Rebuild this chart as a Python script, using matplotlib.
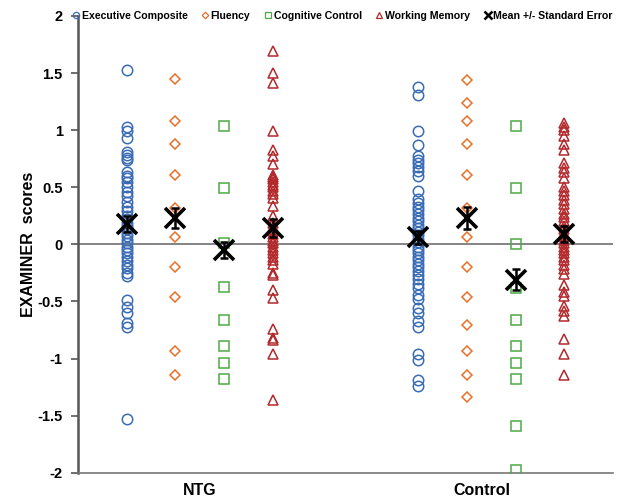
import matplotlib
matplotlib.use("Agg")
import matplotlib.pyplot as plt
from matplotlib.lines import Line2D

plt.rcParams['font.family'] = ['Liberation Sans', 'DejaVu Sans']
plt.rcParams['font.weight'] = 'bold'

# positions on x: NTG group 1-4, Control group 7-10
groups = ["NTG", "Control"]
series = ["Executive Composite", "Fluency", "Cognitive Control", "Working Memory"]

ntg_exec = [1.53, 1.03, 0.99, 0.93, 0.81, 0.78, 0.76, 0.74, 0.63, 0.60, 0.58, 0.55,
            0.50, 0.46, 0.42, 0.37, 0.33, 0.29, 0.25, 0.22, 0.19, 0.16, 0.13, 0.10,
            0.07, 0.04, 0.01, -0.02, -0.05, -0.08, -0.11, -0.15, -0.18, -0.21, -0.25,
            -0.28, -0.49, -0.55, -0.60, -0.69, -0.72, -1.53]
ntg_flu = [1.45, 1.08, 0.88, 0.61, 0.32, 0.06, -0.20, -0.46, -0.93, -1.14]
ntg_cog = [1.04, 0.49, 0.01, -0.37, -0.66, -0.89, -1.04, -1.18]
ntg_wm = [1.69, 1.50, 1.41, 0.99, 0.83, 0.77, 0.70, 0.61, 0.59, 0.57, 0.55, 0.52,
          0.50, 0.47, 0.44, 0.41, 0.34, 0.25, 0.19, 0.15, 0.12, 0.09, 0.06, 0.03,
          0.01, -0.02, -0.05, -0.08, -0.11, -0.14, -0.17, -0.25, -0.27, -0.40,
          -0.47, -0.74, -0.82, -0.84, -0.96, -1.36]

ctl_exec = [1.38, 1.31, 0.99, 0.87, 0.77, 0.74, 0.71, 0.68, 0.64, 0.60, 0.47, 0.40,
            0.36, 0.33, 0.30, 0.27, 0.23, 0.20, 0.17, 0.14, 0.11, 0.08, 0.05, 0.02,
            -0.02, -0.05, -0.08, -0.11, -0.14, -0.17, -0.20, -0.23, -0.27, -0.30,
            -0.35, -0.38, -0.44, -0.48, -0.56, -0.60, -0.67, -0.72, -0.96, -1.01,
            -1.19, -1.24]
ctl_flu = [1.44, 1.24, 1.08, 0.88, 0.61, 0.32, 0.06, -0.20, -0.46, -0.71, -0.93, -1.14, -1.34]
ctl_cog = [1.04, 0.49, 0.00, -0.38, -0.66, -0.89, -1.04, -1.18, -1.59, -1.98]
ctl_wm = [1.06, 1.03, 1.00, 0.95, 0.88, 0.83, 0.71, 0.67, 0.63, 0.58, 0.50, 0.47,
          0.43, 0.39, 0.35, 0.31, 0.27, 0.24, 0.20, 0.16, 0.13, 0.10, 0.07, 0.04,
          0.01, -0.02, -0.05, -0.08, -0.11, -0.14, -0.18, -0.22, -0.26, -0.36,
          -0.42, -0.45, -0.54, -0.58, -0.63, -0.83, -0.96, -1.14]

ntg_mean = [0.18, 0.23, -0.05, 0.14]
ntg_se = [0.07, 0.09, 0.07, 0.08]
ctl_mean = [0.06, 0.23, -0.31, 0.09]
ctl_se = [0.06, 0.10, 0.09, 0.07]

x_ntg = [1, 2, 3, 4]
x_ctl = [7, 8, 9, 10]

colors = ['#3A6BB5', '#E8702A', '#4DAA45', '#B3282B']
markers = ['o', 'D', 's', '^']
msizes = [7.5, 5.5, 7, 6.5]

fig = plt.figure(figsize=(6.21, 4.99), dpi=100)
ax = fig.add_axes([0.1256, 0.0527, 0.8614, 0.9153])

data = [[ntg_exec, ntg_flu, ntg_cog, ntg_wm], [ctl_exec, ctl_flu, ctl_cog, ctl_wm]]
xs = [x_ntg, x_ctl]
for g in range(2):
    for k in range(4):
        vals = data[g][k]
        ax.plot([xs[g][k]] * len(vals), vals, linestyle='none', marker=markers[k],
                markersize=msizes[k], markerfacecolor='none', markeredgecolor=colors[k],
                markeredgewidth=1.1, zorder=3)

for xx, mm, ss in [(x_ntg, ntg_mean, ntg_se), (x_ctl, ctl_mean, ctl_se)]:
    ax.errorbar(xx, mm, yerr=ss, fmt='none', ecolor='black', elinewidth=1.8,
                capsize=3, capthick=1.8, zorder=4)
    ax.plot(xx, mm, linestyle='none', marker='x', markersize=15, markeredgewidth=2.6,
            color='black', zorder=5)

ax.axhline(0, color='#6f6f6f', linewidth=1.2, zorder=1)

ax.set_xlim(0, 11)
ax.set_ylim(-2, 2)
ax.set_yticks([-2, -1.5, -1, -0.5, 0, 0.5, 1, 1.5, 2])
ax.set_yticklabels(['-2', '-1.5', '-1', '-0.5', '0', '0.5', '1', '1.5', '2'])
ax.set_xticks([])
ax.tick_params(axis='y', labelsize=10.5, length=5, width=1.2, color='#555555', pad=6)
for lab in ax.get_yticklabels():
    lab.set_fontweight('bold')

ax.spines['top'].set_visible(False)
ax.spines['right'].set_visible(False)
ax.spines['left'].set_color('#555555')
ax.spines['left'].set_linewidth(1.8)
ax.spines['bottom'].set_color('#777777')
ax.spines['bottom'].set_linewidth(1.2)

ax.set_ylabel('EXAMINER  scores', fontsize=11.5, fontweight='bold', labelpad=1)

ax.text(2.5, -2.16, groups[0], ha='center', va='center', fontsize=11.5, fontweight='bold')
ax.text(8.3, -2.16, groups[1], ha='center', va='center', fontsize=11.5, fontweight='bold')

handles = []
for k in range(4):
    handles.append(Line2D([], [], linestyle='none', marker=markers[k], markersize=msizes[k] * 0.6,
                          markerfacecolor='none', markeredgecolor=colors[k], markeredgewidth=0.9))
handles.append(Line2D([], [], linestyle='none', marker='x', markersize=6, markeredgewidth=1.8,
                      color='black'))
leg = ax.legend(handles, series + ['Mean +/- Standard Error'], loc='upper left',
                bbox_to_anchor=(-0.02, 1.02), ncol=5, frameon=False, handlelength=0.8,
                handletextpad=0.15, columnspacing=1.25, borderaxespad=0,
                prop={'size': 7.6, 'weight': 'bold'})

fig.savefig('out.png', dpi=100)
